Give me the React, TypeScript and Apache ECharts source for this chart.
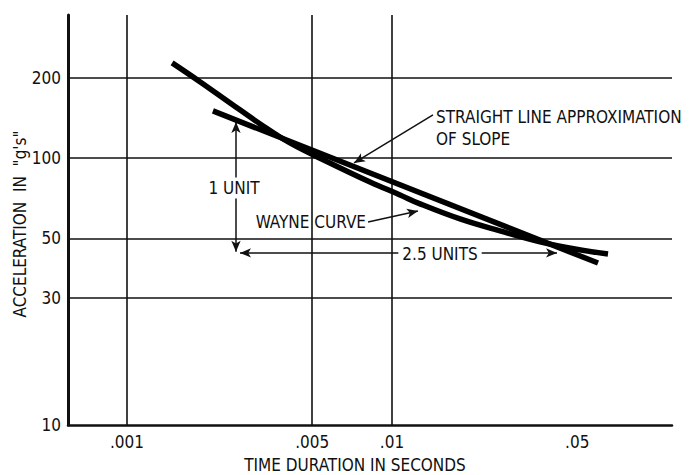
import React, { useEffect, useRef } from "react";
import * as echarts from "echarts";

// ---- data ----
const xTickValues = [0.001, 0.005, 0.01, 0.05];
const xTickLabels = [".001", ".005", ".01", ".05"];
const yTickValues = [10, 30, 50, 100, 200];
const yTickLabels = ["10", "30", "50", "100", "200"];
const yGridValues = [30, 50, 100, 200];

// Wayne curve (time s, acceleration g)
const wayneX = [0.00148, 0.00189, 0.00245, 0.00318, 0.00412, 0.00583, 0.00826, 0.01072, 0.01276, 0.01806, 0.02556, 0.03618, 0.04905, 0.06532];
const wayneY = [227, 192.6, 160.7, 134.1, 113.8, 95.8, 81.3, 72.7, 67.3, 59.1, 53.3, 48.5, 45.6, 43.7];

// Straight line approximation of slope
const slopeX = [0.00211, 0.0599];
const slopeY = [150, 40.4];

const FONT = "'Liberation Sans Narrow', 'DejaVu Sans Condensed', 'Arial Narrow', 'Roboto Condensed', sans-serif";
const INK = "#111";

function fmt(values: number[], labels: string[]) {
  return (v: number) => {
    let best = -1;
    let bd = Infinity;
    values.forEach((t, i) => {
      const d = Math.abs(Math.log10(v) - Math.log10(t));
      if (d < bd) { bd = d; best = i; }
    });
    return bd < 0.01 ? labels[best] : "";
  };
}

export default function App() {
  const ref = useRef<HTMLDivElement>(null);
  useEffect(() => {
    if (!ref.current) return;
    const chart = echarts.init(ref.current, undefined, { renderer: "svg" });
    const txt = (text: string, x: number, y: number, align: string, extra: any = {}) => ({
      type: "text",
      x,
      y,
      z: 100,
      style: {
        text,
        align,
        verticalAlign: "middle",
        fontFamily: FONT,
        fontSize: 17,
        fill: INK,
        ...extra,
      },
    });
    const arrowLine = { color: INK, width: 1.5, type: "solid" as const };
    chart.setOption({
      animation: false,
      backgroundColor: "#fff",
      grid: { left: 68, right: 19, top: 15, bottom: 50 },
      xAxis: {
        type: "log",
        min: 0.000599,
        max: 0.1139,
        axisLine: { show: true, lineStyle: { color: INK, width: 2.5 } },
        axisTick: { show: false },
        splitLine: { show: false },
        minorTick: { show: false },
        axisLabel: {
          customValues: xTickValues,
          formatter: fmt(xTickValues, xTickLabels),
          margin: 8,
          fontFamily: FONT,
          fontSize: 17,
          color: INK,
        },
      },
      yAxis: {
        type: "log",
        min: 10,
        max: 343,
        axisLine: { show: true, lineStyle: { color: INK, width: 3 } },
        axisTick: { show: false },
        splitLine: { show: false },
        axisLabel: {
          customValues: yTickValues,
          formatter: fmt(yTickValues, yTickLabels),
          margin: 7,
          fontFamily: FONT,
          fontSize: 17,
          color: INK,
        },
      },
      graphic: [
        txt("STRAIGHT LINE APPROXIMATION", 436, 117, "left"),
        txt("OF SLOPE", 436, 139, "left"),
        txt("1 UNIT", 234, 188, "center", { backgroundColor: "#fff", padding: [2, 2] }),
        txt("WAYNE CURVE", 366, 222, "right"),
        txt("2.5 UNITS", 440, 254, "center", { backgroundColor: "#fff", padding: [2, 4] }),
        txt("TIME DURATION IN SECONDS", 355, 465, "center"),
        {
          type: "text",
          x: 20,
          y: 224,
          rotation: Math.PI / 2,
          z: 100,
          style: {
            text: "ACCELERATION  IN  \"g's\"",
            align: "center",
            verticalAlign: "middle",
            fontFamily: FONT,
            fontSize: 17,
            fill: INK,
          },
        },
      ],
      series: [
        {
          type: "line",
          name: "grid",
          data: [],
          clip: false,
          silent: true,
          markLine: {
            silent: true,
            symbol: ["none", "none"],
            label: { show: false },
            lineStyle: { color: INK, width: 1.6, type: "solid" },
            data: [
              ...yGridValues.map((v) => ({ yAxis: v })),
              ...xTickValues.map((v) => [
                { coord: [v, 10] },
                { coord: [v, v === 0.05 ? 374 : 343] },
              ]),
            ],
          },
        },
        {
          type: "line",
          name: "annotations",
          data: [],
          clip: false,
          silent: true,
          markLine: {
            silent: true,
            label: { show: false },
            lineStyle: arrowLine,
            symbolSize: [7, 11],
            data: [
              [
                { coord: [0.002578, 136.4], symbol: "arrow" },
                { coord: [0.002578, 44.5], symbol: "arrow" },
              ],
              [
                { coord: [0.002669, 44.1], symbol: "arrow" },
                { coord: [0.04195, 44.1], symbol: "arrow" },
              ],
              [
                { coord: [0.01428, 144.9], symbol: "none" },
                { coord: [0.00719, 95.8], symbol: "arrow" },
              ],
              [
                { coord: [0.00812, 57.6], symbol: "none" },
                { coord: [0.01253, 63.3], symbol: "arrow" },
              ],
            ],
          },
        },
        {
          type: "line",
          name: "Wayne curve",
          data: wayneX.map((x, i) => [x, wayneY[i]]),
          smooth: 0.4,
          symbol: "none",
          lineStyle: { color: "#000", width: 5.5, cap: "butt" },
          z: 5,
        },
        {
          type: "line",
          name: "Straight line approximation",
          data: slopeX.map((x, i) => [x, slopeY[i]]),
          symbol: "none",
          lineStyle: { color: "#000", width: 5.5, cap: "butt" },
          z: 5,
        },
      ],
    });
    return () => chart.dispose();
  }, []);
  return <div ref={ref} style={{ width: 691, height: 475, position: "absolute", left: 0, top: 0 }} />;
}
